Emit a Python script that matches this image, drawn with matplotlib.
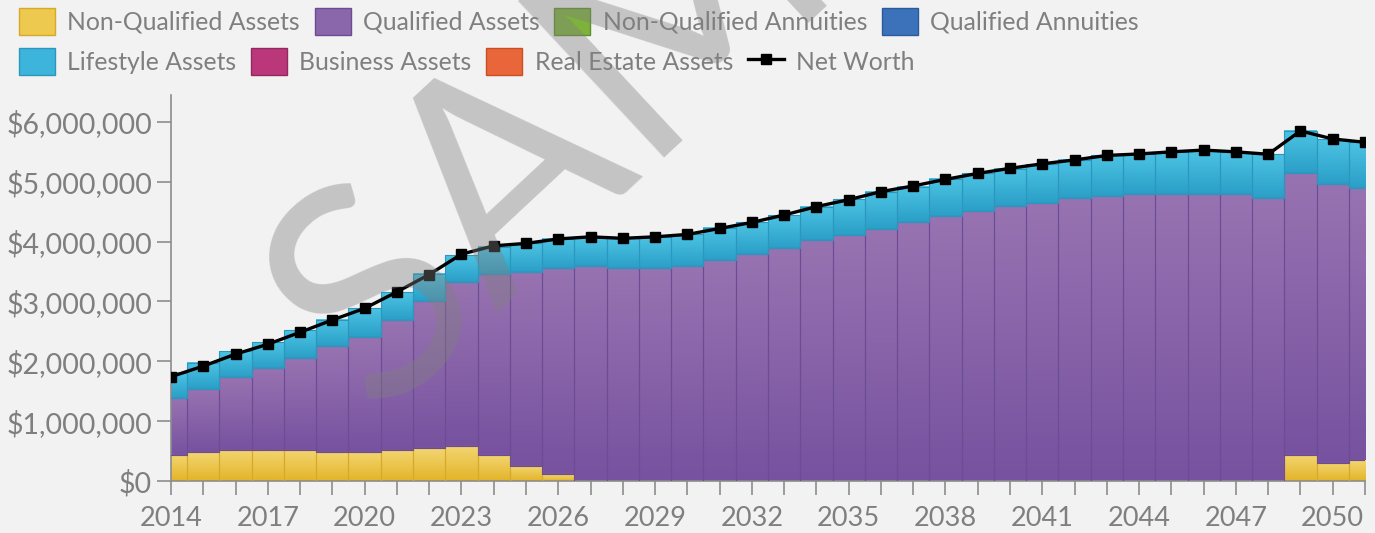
import numpy as np
import matplotlib.pyplot as plt
from matplotlib.colors import LinearSegmentedColormap
from matplotlib.lines import Line2D
from matplotlib.patches import Patch
from matplotlib.ticker import FuncFormatter

plt.rcParams['font.family'] = ['Lato', 'DejaVu Sans']

years = list(range(2014, 2052))

non_qualified = [435000, 480000, 520000, 520000, 520000, 490000, 490000, 520000, 545000, 585000,
                 435000, 256000, 110000] + [0] * 22 + [435000, 306000, 350000]
qualified = [945000, 1060000, 1225000, 1375000, 1540000, 1765000, 1920000, 2170000, 2455000, 2745000,
             3020000, 3234000, 3445000, 3600000, 3555000, 3555000, 3600000, 3690000, 3795000, 3900000,
             4020000, 4110000, 4210000, 4320000, 4420000, 4520000, 4590000, 4650000, 4730000, 4770000,
             4800000, 4800000, 4800000, 4800000, 4725000, 4705000, 4664000, 4540000]
lifestyle = [430000, 440000, 425000, 425000, 460000, 435000, 475000, 460000, 455000, 450000,
             460000, 480000, 490000, 480000, 500000, 525000, 520000, 545000, 525000, 545000,
             565000, 600000, 625000, 600000, 620000, 620000, 630000, 650000, 635000, 670000,
             665000, 690000, 720000, 700000, 735000, 710000, 745000, 770000]
net_worth = [1743000, 1920000, 2120000, 2285000, 2485000, 2690000, 2885000, 3160000, 3450000, 3790000,
             3930000, 3970000, 4045000, 4080000, 4055000, 4080000, 4120000, 4220000, 4320000, 4445000,
             4585000, 4700000, 4835000, 4930000, 5040000, 5140000, 5225000, 5300000, 5365000, 5440000,
             5465000, 5500000, 5530000, 5500000, 5460000, 5850000, 5715000, 5660000]

legend_row1 = ['Non-Qualified Assets', 'Qualified Assets', 'Non-Qualified Annuities', 'Qualified Annuities']
legend_row2 = ['Lifestyle Assets', 'Business Assets', 'Real Estate Assets', 'Net Worth']

BG = '#f2f2f2'
GREY = '#7f7f7f'

fig = plt.figure(figsize=(13.75, 5.33), dpi=100, facecolor=BG)
ax = fig.add_axes([171 / 1375, 1 - 481 / 533, (1365 - 171) / 1375, (481 - 95) / 533])
ax.set_facecolor(BG)


def shade(bars, top, bottom):
    # vertical gradient filling each bar rectangle
    cmap = LinearSegmentedColormap.from_list('g', [bottom, top])
    grad = np.linspace(0, 1, 64).reshape(-1, 1)
    for b in bars:
        if b.get_height() <= 0:
            continue
        x0, y0 = b.get_x(), b.get_y()
        ax.imshow(grad, cmap=cmap, origin='lower', aspect='auto', interpolation='bilinear',
                  extent=(x0, x0 + b.get_width(), y0, y0 + b.get_height()), zorder=2)


nq = np.array(non_qualified)
q = np.array(qualified)
ls = np.array(lifestyle)

b1 = ax.bar(years, nq, width=1.0, facecolor='none', edgecolor='#d6a92a', linewidth=0.8, zorder=3)
b2 = ax.bar(years, q, bottom=nq, width=1.0, facecolor='none', edgecolor='#6c4d93', linewidth=0.8, zorder=3)
b3 = ax.bar(years, ls, bottom=nq + q, width=1.0, facecolor='none', edgecolor='#2c97bd', linewidth=0.8, zorder=3)
shade(b1, '#f3d672', '#e3b428')
shade(b2, '#9873b1', '#7652a0')
shade(b3, '#4cc3e4', '#2b9fc7')

ax.plot(years, net_worth, color='black', linewidth=2.4, marker='s', markersize=7, zorder=5)

ax.set_xlim(2014, 2051)
ax.set_ylim(0, 6450000)
ax.set_yticks(range(0, 6000001, 1000000))
ax.yaxis.set_major_formatter(FuncFormatter(lambda v, p: '${:,.0f}'.format(v)))
ax.set_xticks(years)
ax.set_xticklabels([str(y) if (y - 2014) % 3 == 0 else '' for y in years])
ax.tick_params(axis='both', colors='#8c8c8c', labelcolor=GREY, length=10, width=1.2)
ax.tick_params(axis='x', pad=8, labelsize=19.5)
ax.tick_params(axis='y', labelsize=20.5)
for s in ['top', 'right']:
    ax.spines[s].set_visible(False)
for s in ['left', 'bottom']:
    ax.spines[s].set_color('#8c8c8c')
    ax.spines[s].set_linewidth(1.2)

# legend, two flowing rows
colors1 = [('#edc94f', '#d6a92a'), ('#8a66ab', '#6c4d93'), ('#7db23c', '#5f8f2a'), ('#3b72b9', '#2b5a98')]
colors2 = [('#3db4dc', '#2c97bd'), ('#b9377a', '#93285f'), ('#e9663a', '#c84e26')]
h1 = [Patch(facecolor=f, edgecolor=e, label=l) for (f, e), l in zip(colors1, legend_row1)]
h2 = [Patch(facecolor=f, edgecolor=e, label=l) for (f, e), l in zip(colors2, legend_row2[:3])]
h2.append(Line2D([], [], color='black', linewidth=2.4, marker='s', markersize=7, label=legend_row2[3]))

common = dict(loc='upper left', ncol=4, frameon=False, fontsize=17.8, labelcolor=GREY,
              handlelength=1.45, handleheight=1.3, handletextpad=0.5, columnspacing=0.6,
              borderpad=0, borderaxespad=0)
leg1 = fig.legend(handles=h1, bbox_to_anchor=(19 / 1375, 1 - 8 / 533), **common)
leg2 = fig.legend(handles=h2, bbox_to_anchor=(19 / 1375, 1 - 48 / 533), **common)

fig.text(376 / 1375, 1 - 418 / 533, 'SAMPLE', rotation=43, rotation_mode='anchor', ha='left',
         va='baseline', fontsize=215, color='#808080', alpha=0.4, zorder=10)

fig.savefig('out.png', dpi=100, facecolor=BG)
